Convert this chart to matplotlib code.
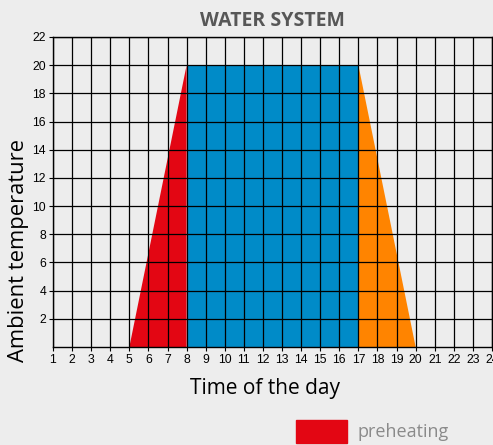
import matplotlib
matplotlib.use("Agg")
import matplotlib.pyplot as plt
from matplotlib.patches import Patch

# water system heating schedule
hours = list(range(1, 25))
temp_ticks = list(range(2, 23, 2))

preheat_x = [5, 8, 8]
preheat_y = [0, 20, 0]
comfort_x = [8, 17]
comfort_y = [20, 20]
cooldown_x = [17, 17, 20]
cooldown_y = [0, 20, 0]

bg = "#ededed"
red = "#e30613"
blue = "#008bc8"
orange = "#ff8400"

fig = plt.figure(figsize=(4.93, 4.45), dpi=100, facecolor=bg)
ax = fig.add_axes([0.1075, 0.2202, 0.8905, 0.6967])
ax.set_facecolor(bg)

ax.fill(preheat_x, preheat_y, color=red, lw=0, zorder=1)
ax.fill_between(comfort_x, 0, comfort_y, color=blue, lw=0, zorder=1)
ax.fill(cooldown_x, cooldown_y, color=orange, lw=0, zorder=1)

ax.set_xlim(1, 24)
ax.set_ylim(0, 22)
ax.set_xticks(hours)
ax.set_yticks(temp_ticks)
ax.grid(True, color="black", lw=0.9, zorder=2)
ax.set_axisbelow(False)
for s in ax.spines.values():
    s.set_color("black")
    s.set_linewidth(1.0)
    s.set_zorder(3)

tick_font = dict(family=["Liberation Sans", "DejaVu Sans"], size=8.8)
ax.set_xticklabels([str(h) for h in hours], **tick_font)
ax.set_yticklabels([str(t) for t in temp_ticks], **tick_font)
ax.tick_params(length=3, width=0.8, pad=2, colors="black")

ax.set_title("WATER SYSTEM", family="Open Sans", weight="bold", size=14,
             color="#575757", pad=8)
ax.set_xlabel("Time of the day", family="Open Sans", size=15)
ax.xaxis.set_label_coords(0.484, -0.1)
ax.set_ylabel("Ambient temperature", family="Open Sans", size=15.8)
ax.yaxis.set_label_coords(-0.055, 0.31)

fig.legend(handles=[Patch(color=red, label="preheating")],
           loc="center left", bbox_to_anchor=(0.6, 0.031),
           frameon=False, prop=dict(family="Open Sans", size=13),
           labelcolor="#8a8a8a", handlelength=2.85, handleheight=1.6,
           handletextpad=0.55, borderaxespad=0, borderpad=0)

fig.savefig("out.png", dpi=100, facecolor=bg)
